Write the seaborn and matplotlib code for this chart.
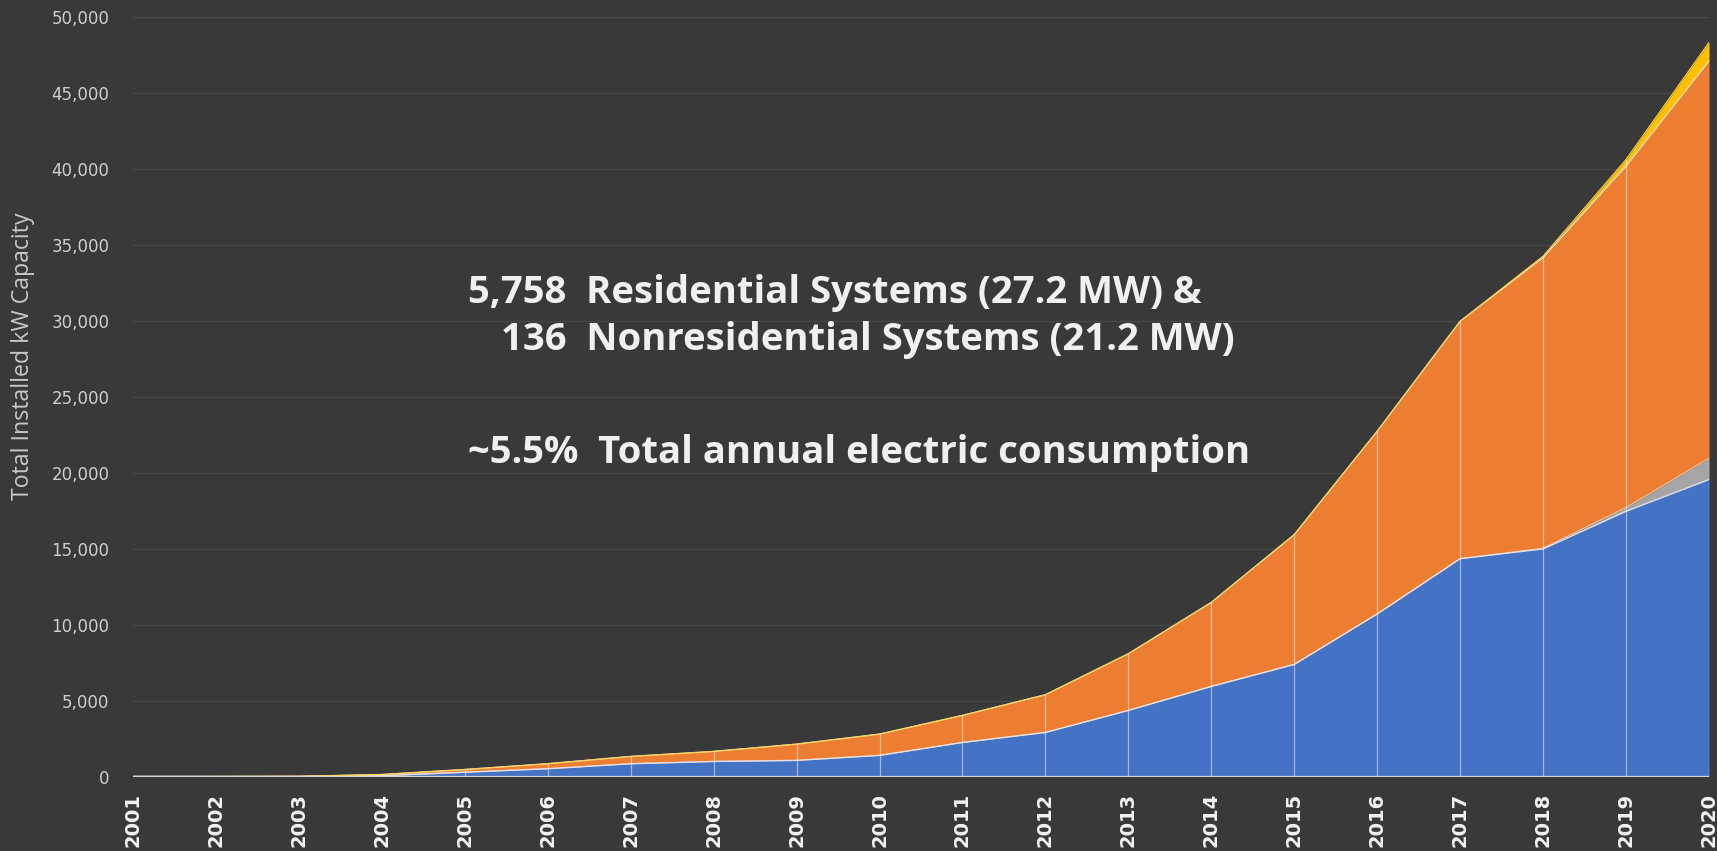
import matplotlib
matplotlib.use("Agg")
import matplotlib.pyplot as plt
import matplotlib.ticker as mticker
import numpy as np
import pandas as pd
import seaborn as sns

# ---------------- data ----------------
years = list(range(2001, 2021))
series_blue = [0, 0, 0, 50, 280, 510, 840, 990, 1060, 1390, 2240, 2900, 4350,
               5930, 7380, 10700, 14340, 14980, 17460, 19550]
series_gray = [0, 0, 0, 0, 0, 0, 0, 0, 0, 0, 0, 0, 0,
               0, 0, 0, 0, 50, 250, 1400]
series_orange = [0, 0, 10, 80, 180, 330, 480, 660, 1070, 1400, 1780, 2480, 3730,
                 5530, 8540, 12030, 15630, 19130, 22470, 26150]
series_yellow = [0, 0, 0, 0, 0, 0, 0, 0, 0, 0, 0, 0, 0,
                 0, 0, 0, 0, 100, 440, 1230]
y_ticks = list(range(0, 50001, 5000))
annotation_lines = [
    "5,758  Residential Systems (27.2 MW) &",
    "136  Nonresidential Systems (21.2 MW)",
    "~5.5%  Total annual electric consumption",
]
y_label = "Total Installed kW Capacity"

# ---------------- style ----------------
BG = "#393939"
sns.set_theme(style="dark")
plt.rcParams["font.family"] = ["Open Sans", "DejaVu Sans"]

colors = ["#4472C4", "#A5A5A5", "#ED7D31", "#FFC000"]

df = pd.DataFrame({"year": years, "blue": series_blue, "gray": series_gray,
                   "orange": series_orange, "yellow": series_yellow})
c1 = df["blue"]
c2 = c1 + df["gray"]
c3 = c2 + df["orange"]
c4 = c3 + df["yellow"]

W, H = 1717, 851
fig = plt.figure(figsize=(W / 100, H / 100), dpi=100, facecolor=BG)
x0, x1 = 133, 1709
y0, y1 = 776.5, 17
ax = fig.add_axes([x0 / W, (H - y0) / H, (x1 - x0) / W, (y0 - y1) / H])
ax.set_facecolor(BG)

# gridlines
for t in y_ticks[1:]:
    ax.axhline(t, color="#474747", lw=1.0, zorder=0)

ax.stackplot(df["year"], df["blue"], df["gray"], df["orange"], df["yellow"],
             colors=colors, linewidth=0, zorder=2)

# boundary lines
sns.lineplot(x=df["year"], y=c1, color="#d8dff0", lw=1.0, ax=ax, zorder=3)
sns.lineplot(x=df["year"], y=c2, color="#e6e6e6", lw=0.8, ax=ax, zorder=3, alpha=0.7)
sns.lineplot(x=df["year"], y=c3, color="#f3d7bf", lw=1.0, ax=ax, zorder=3)
sns.lineplot(x=df["year"], y=c4, color="#ffd54a", lw=0.8, ax=ax, zorder=3)

# vertical drop lines at each year
ax.vlines(df["year"], 0, c4, color="white", lw=0.9, alpha=0.5, zorder=4)

# axis baseline
ax.axhline(0, color="#d9d9d9", lw=1.6, zorder=5)

ax.set_xlim(2001, 2020)
ax.set_ylim(0, 50000)
ax.set_xticks(years)
ax.set_xticklabels([str(y) for y in years], rotation=90, fontsize=14,
                   fontweight="bold", color="#f2f2f2", family="DejaVu Sans")
ax.set_yticks(y_ticks)
ax.yaxis.set_major_formatter(mticker.FuncFormatter(lambda v, p: f"{int(v):,}"))
ax.tick_params(axis="y", length=0, pad=17, labelsize=12, labelcolor="#cfcfcf")
for lab in ax.get_yticklabels():
    lab.set_family("DejaVu Sans")
ax.tick_params(axis="x", length=0, pad=12)
ax.grid(False)
for s in ax.spines.values():
    s.set_visible(False)
ax.set_xlabel("")
ax.set_ylabel("")

renderer = fig.canvas.get_renderer()

# y label, sized to span the same height as the reference
yl = fig.text(23 / W, 1 - 356 / H, y_label, rotation=90, ha="center", va="center",
              fontsize=15, color="#c8c8c8")
h = yl.get_window_extent(renderer).height
yl.set_fontsize(15 * 288 / h)

# annotation
targets = [745, 735, 767]
texts = []
fs = 24
for line in annotation_lines:
    texts.append(fig.text(0, 0, line, fontsize=fs, fontweight="bold", color="#f0f0f0"))
ratios = [tw / t.get_window_extent(renderer).width for t, tw in zip(texts, targets)]
fs_fit = fs * float(np.mean(ratios))
anchors = [(468, 303, "left"), (1235, 350, "right"), (468, 463, "left")]
for t, (px, py, ha) in zip(texts, anchors):
    t.set_fontsize(fs_fit)
    t.set_position((px / W, 1 - py / H))
    t.set_ha(ha)
    t.set_va("baseline")

fig.savefig("out.png", dpi=100, facecolor=BG)
